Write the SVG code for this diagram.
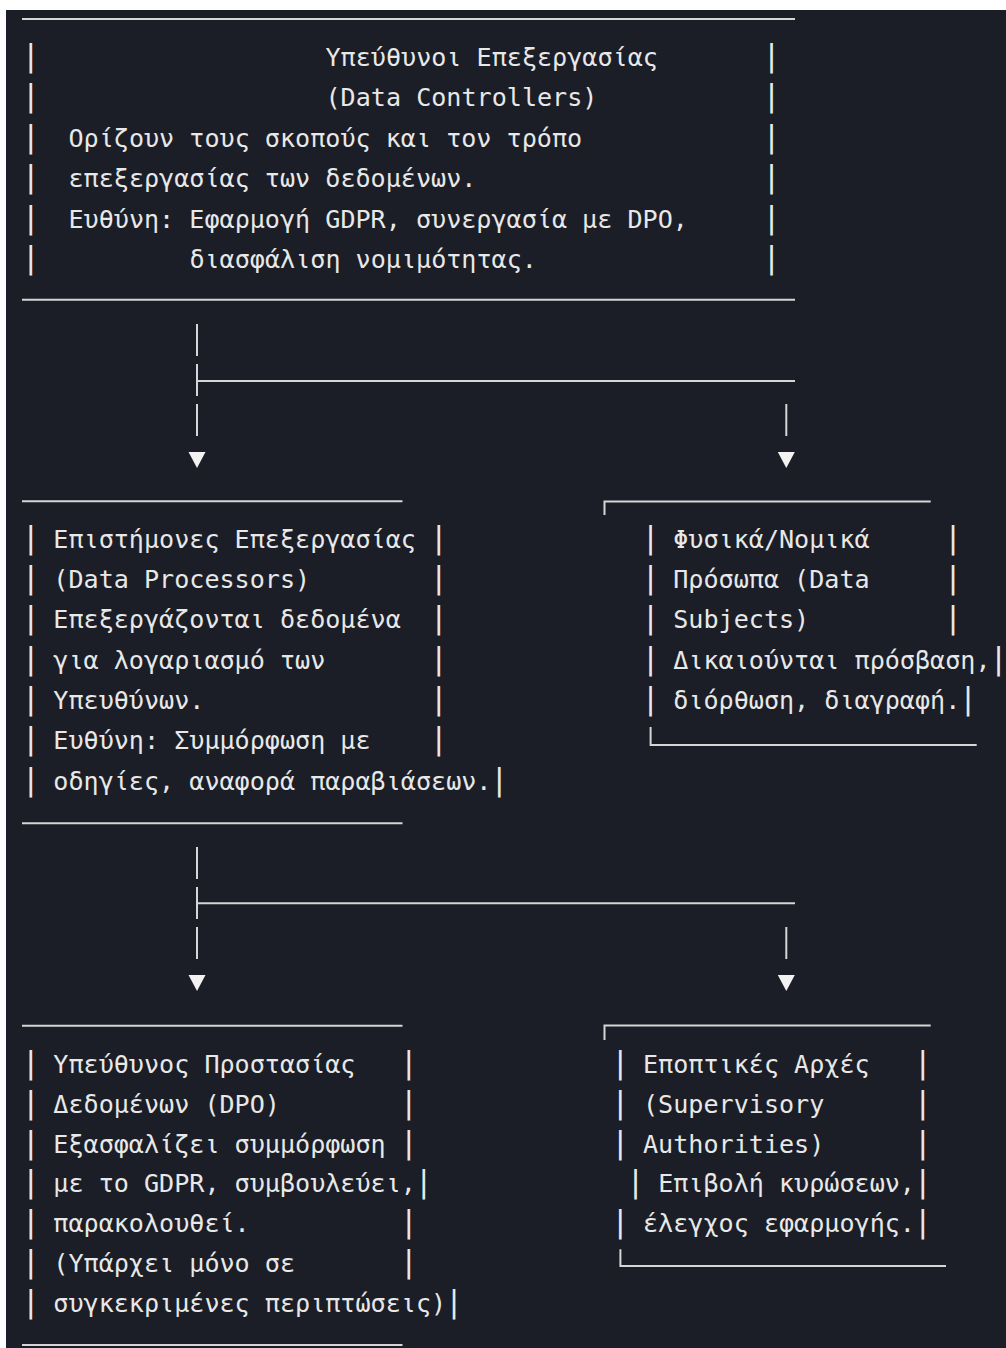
<svg xmlns="http://www.w3.org/2000/svg" width="1006" height="1348" viewBox="0 0 1006 1348">
<style>
  .t { font-family: "DejaVu Sans Mono", "Liberation Mono", monospace; font-size: 25.1px; fill: #e8e8e8; white-space: pre; }
  .b { font-family: "DejaVu Sans Mono", "Liberation Mono", monospace; font-size: 30px; fill: #e8e8e8; text-anchor: middle; }
  .ln { stroke: #d6d6d6; stroke-width: 2; fill: none; }
  .ar { fill: #f2f2f2; }
</style>
<rect x="0" y="0" width="1006" height="1348" fill="#ffffff"/>
<rect x="6" y="10" width="1000" height="1338" fill="#1b1e27"/>

<g id="controllers">
  <line class="ln" x1="22" y1="19" x2="795" y2="19"/>
  <line class="ln" x1="22" y1="299.7" x2="795" y2="299.7"/>
  <text class="b" x="30.66" y="65.5">|</text><text class="t" x="325.5" y="65.5">Υπεύθυνοι Επεξεργασίας</text><text class="b" x="771.54" y="65.5">|</text>
  <text class="b" x="30.66" y="106">|</text><text class="t" x="325.5" y="106">(Data Controllers)</text><text class="b" x="771.54" y="106">|</text>
  <text class="b" x="30.66" y="146.5">|</text><text class="t" x="68.46" y="146.5">Ορίζουν τους σκοπούς και τον τρόπο</text><text class="b" x="771.54" y="146.5">|</text>
  <text class="b" x="30.66" y="187">|</text><text class="t" x="68.46" y="187">επεξεργασίας των δεδομένων.</text><text class="b" x="771.54" y="187">|</text>
  <text class="b" x="30.66" y="227.5">|</text><text class="t" x="68.46" y="227.5">Ευθύνη: Εφαρμογή GDPR, συνεργασία με DPO,</text><text class="b" x="771.54" y="227.5">|</text>
  <text class="b" x="30.66" y="268">|</text><text class="t" x="189.42" y="268">διασφάλιση νομιμότητας.</text><text class="b" x="771.54" y="268">|</text>
</g>

<g id="processors">
  <line class="ln" x1="22" y1="501.3" x2="402.5" y2="501.3"/>
  <line class="ln" x1="22" y1="823.3" x2="402.5" y2="823.3"/>
  <text class="b" x="30.66" y="547.5">|</text><text class="t" x="53.34" y="547.5">Επιστήμονες Επεξεργασίας</text><text class="b" x="438.9" y="547.5">|</text>
  <text class="b" x="30.66" y="588">|</text><text class="t" x="53.34" y="588">(Data Processors)</text><text class="b" x="438.9" y="588">|</text>
  <text class="b" x="30.66" y="628.3">|</text><text class="t" x="53.34" y="628.3">Επεξεργάζονται δεδομένα</text><text class="b" x="438.9" y="628.3">|</text>
  <text class="b" x="30.66" y="668.6">|</text><text class="t" x="53.34" y="668.6">για λογαριασμό των</text><text class="b" x="438.9" y="668.6">|</text>
  <text class="b" x="30.66" y="709">|</text><text class="t" x="53.34" y="709">Υπευθύνων.</text><text class="b" x="438.9" y="709">|</text>
  <text class="b" x="30.66" y="749.3">|</text><text class="t" x="53.34" y="749.3">Ευθύνη: Συμμόρφωση με</text><text class="b" x="438.9" y="749.3">|</text>
  <text class="b" x="30.66" y="789.6">|</text><text class="t" x="53.34" y="789.6">οδηγίες, αναφορά παραβιάσεων.</text><text class="b" x="499.38" y="789.6">|</text>
</g>

<g id="subjects">
  <path class="ln" d="M604.5,515 V501.5 H930.7"/>
  <path class="ln" d="M650.6,727 V745 H976.7"/>
  <text class="b" x="650.58" y="547.5">|</text><text class="t" x="673.26" y="547.5">Φυσικά/Νομικά</text><text class="b" x="952.98" y="547.5">|</text>
  <text class="b" x="650.58" y="588">|</text><text class="t" x="673.26" y="588">Πρόσωπα (Data</text><text class="b" x="952.98" y="588">|</text>
  <text class="b" x="650.58" y="628.3">|</text><text class="t" x="673.26" y="628.3">Subjects)</text><text class="b" x="952.98" y="628.3">|</text>
  <text class="b" x="650.58" y="668.6">|</text><text class="t" x="673.26" y="668.6">Δικαιούνται πρόσβαση,</text><text class="b" x="998.46" y="668.6">|</text>
  <text class="b" x="650.58" y="709">|</text><text class="t" x="673.26" y="709">διόρθωση, διαγραφή.</text><text class="b" x="968.1" y="709">|</text>
</g>

<g id="dpo">
  <line class="ln" x1="22" y1="1025.7" x2="402.5" y2="1025.7"/>
  <line class="ln" x1="22" y1="1345" x2="402.5" y2="1345"/>
  <text class="b" x="30.66" y="1072.7">|</text><text class="t" x="53.34" y="1072.7">Υπεύθυνος Προστασίας</text><text class="b" x="408.66" y="1072.7">|</text>
  <text class="b" x="30.66" y="1112.6">|</text><text class="t" x="53.34" y="1112.6">Δεδομένων (DPO)</text><text class="b" x="408.66" y="1112.6">|</text>
  <text class="b" x="30.66" y="1152.5">|</text><text class="t" x="53.34" y="1152.5">Εξασφαλίζει συμμόρφωση</text><text class="b" x="408.66" y="1152.5">|</text>
  <text class="b" x="30.66" y="1192.4">|</text><text class="t" x="53.34" y="1192.4">με το GDPR, συμβουλεύει,</text><text class="b" x="423.78" y="1192.4">|</text>
  <text class="b" x="30.66" y="1232.3">|</text><text class="t" x="53.34" y="1232.3">παρακολουθεί.</text><text class="b" x="408.66" y="1232.3">|</text>
  <text class="b" x="30.66" y="1272.2">|</text><text class="t" x="53.34" y="1272.2">(Υπάρχει μόνο σε</text><text class="b" x="408.66" y="1272.2">|</text>
  <text class="b" x="30.66" y="1312.1">|</text><text class="t" x="53.34" y="1312.1">συγκεκριμένες περιπτώσεις)</text><text class="b" x="454.02" y="1312.1">|</text>
</g>

<g id="supervisory">
  <path class="ln" d="M604.5,1040 V1025.5 H930.7"/>
  <path class="ln" d="M620.4,1249.3 V1266 H946"/>
  <text class="b" x="620.34" y="1072.7">|</text><text class="t" x="643.02" y="1072.7">Εποπτικές Αρχές</text><text class="b" x="922.74" y="1072.7">|</text>
  <text class="b" x="620.34" y="1112.6">|</text><text class="t" x="643.02" y="1112.6">(Supervisory</text><text class="b" x="922.74" y="1112.6">|</text>
  <text class="b" x="620.34" y="1152.5">|</text><text class="t" x="643.02" y="1152.5">Authorities)</text><text class="b" x="922.74" y="1152.5">|</text>
  <text class="b" x="635.46" y="1192.4">|</text><text class="t" x="658.14" y="1192.4">Επιβολή κυρώσεων,</text><text class="b" x="922.74" y="1192.4">|</text>
  <text class="b" x="620.34" y="1232.3">|</text><text class="t" x="643.02" y="1232.3">έλεγχος εφαρμογής.</text><text class="b" x="922.74" y="1232.3">|</text>
</g>

<g id="connectors">
  <line class="ln" x1="197" y1="324" x2="197" y2="356"/>
  <line class="ln" x1="197" y1="364" x2="197" y2="396"/>
  <line class="ln" x1="197" y1="404" x2="197" y2="436"/>
  <line class="ln" x1="197" y1="381" x2="795" y2="381"/>
  <line class="ln" x1="786.3" y1="404" x2="786.3" y2="436"/>
  <polygon class="ar" points="188.5,452 205.5,452 197,468"/>
  <polygon class="ar" points="777.8,452 794.8,452 786.3,468"/>

  <line class="ln" x1="197" y1="847" x2="197" y2="879"/>
  <line class="ln" x1="197" y1="887" x2="197" y2="919"/>
  <line class="ln" x1="197" y1="927" x2="197" y2="959"/>
  <line class="ln" x1="197" y1="903.3" x2="795" y2="903.3"/>
  <line class="ln" x1="786.3" y1="927" x2="786.3" y2="959"/>
  <polygon class="ar" points="188.5,975 205.5,975 197,991"/>
  <polygon class="ar" points="777.8,975 794.8,975 786.3,991"/>
</g>
</svg>
